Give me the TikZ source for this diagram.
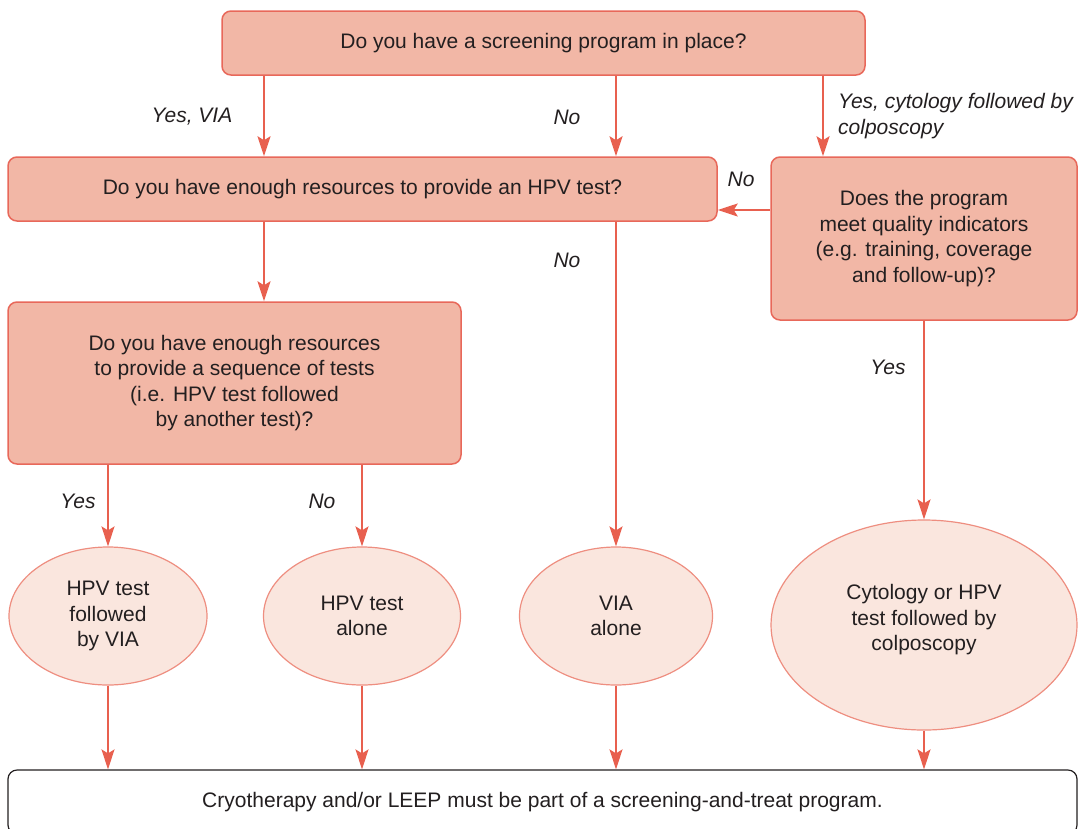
\documentclass[tikz,border=0pt]{standalone}
\usepackage{fontspec}
\setmainfont{Liberation Sans}
\usetikzlibrary{shapes.geometric,arrows.meta}
\definecolor{boxfill}{HTML}{F2B7A6}
\definecolor{boxline}{HTML}{E8685A}
\definecolor{ovalfill}{HTML}{FAE6DE}
\definecolor{ovalline}{HTML}{EE8E80}
\definecolor{arrowred}{HTML}{E8604F}
\definecolor{textgray}{HTML}{231F20}
\tikzset{
    question/.style={draw=boxline, fill=boxfill, line width=1.5pt, rounded corners=9pt,
        align=center, inner sep=0pt, text=textgray},
    outcome/.style={ellipse, draw=ovalline, fill=ovalfill, line width=1.2pt,
        align=center, inner sep=0pt, text=textgray},
    flow/.style={draw=arrowred, line width=2pt, -{Stealth[length=20pt, width=13pt, inset=4pt]}},
    answer/.style={font=\fontsize{21}{25.5}\selectfont\itshape, text=textgray, inner sep=0pt}
}
\begin{document}
\begin{tikzpicture}[x=1pt, y=-1pt, font=\fontsize{21}{25.5}\selectfont]
    \useasboundingbox (0,0) rectangle (1078,828);

    % Perguntas
    \node[question, minimum width=643pt, minimum height=64pt] (q1) at (543.5,43) {Do you have a screening program in place?};
    \node[question, minimum width=709pt, minimum height=64pt] (q2) at (362.5,189) {Do you have enough resources to provide an HPV test?};
    \node[question, minimum width=306pt, minimum height=163pt] (q3) at (924,238.5) {Does the program\\meet quality indicators\\(e.g. training, coverage\\and follow-up)?};
    \node[question, minimum width=453pt, minimum height=162pt] (q4) at (234.5,383) {Do you have enough resources\\to provide a sequence of tests\\(i.e. HPV test followed\\by another test)?};

    % Resultados
    \node[outcome, minimum width=198pt, minimum height=138pt] (e1) at (108,616) {HPV test\\followed\\by VIA};
    \node[outcome, minimum width=197pt, minimum height=138pt] (e2) at (362,616) {HPV test\\alone};
    \node[outcome, minimum width=193pt, minimum height=138pt] (e3) at (616,616) {VIA\\alone};
    \node[outcome, minimum width=306pt, minimum height=210pt] (e4) at (924,625) {Cytology or HPV\\test followed by\\colposcopy\\[-11pt]};

    % Caixa final
    \node[draw=textgray, fill=white, line width=1.2pt, rounded corners=9pt, minimum width=1069pt,
        minimum height=64pt, inner sep=0pt, text=textgray] (treat) at (542.5,802)
        {Cryotherapy and/or LEEP must be part of a screening-and-treat program.};

    % Colunas auxiliares
    \coordinate (colvia) at (264,0);
    \coordinate (colcyt) at (823,0);
    \coordinate (rowno) at (0,210);

    % Setas
    \draw[flow] (q1.south -| colvia) -- (q2.north -| colvia);
    \draw[flow] (q1.south -| e3) -- (q2.north -| e3);
    \draw[flow] (q1.south -| colcyt) -- (q3.north -| colcyt);
    \draw[flow] (q3.west |- rowno) -- (q2.east |- rowno);
    \draw[flow] (q2.south -| colvia) -- (q4.north -| colvia);
    \draw[flow] (q2.south -| e3) -- (e3.north);
    \draw[flow] (q3.south) -- (e4.north);
    \draw[flow] (q4.south -| e1) -- (e1.north);
    \draw[flow] (q4.south -| e2) -- (e2.north);
    \foreach \e in {e1,e2,e3,e4}
        \draw[flow] (\e.south) -- (treat.north -| \e);

    % Respostas
    \node[answer] (yesvia) at (192,117) {Yes, VIA};
    \node[answer] (notop) at (567,117) {No};
    \node[answer, align=left, anchor=west] (yescyt) at (838,116) {Yes, cytology followed by\\colposcopy};
    \node[answer] (noqual) at (741,179) {No};
    \node[answer] (nohpv) at (567,260) {No};
    \node[answer] (yesqual) at (888,367) {Yes};
    \node[answer] (yesseq) at (78,501) {Yes};
    \node[answer] (noseq) at (322,501) {No};
\end{tikzpicture}
\end{document}
